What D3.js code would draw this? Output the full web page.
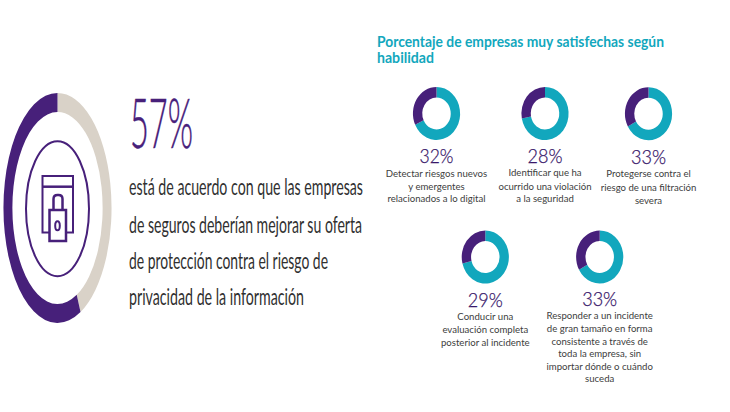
<!DOCTYPE html>
<html>
<head>
<meta charset="utf-8">
<script src="https://cdn.jsdelivr.net/npm/d3@7"></script>
<style>
  html, body { margin: 0; padding: 0; background: #fff; }
  text { font-family: Lato, "Open Sans", sans-serif; }
</style>
</head>
<body>
<div id="chart"></div>
<script>
// Values
var mainValue = 57;
var mainLines = ["está de acuerdo con que las empresas",
                 "de seguros deberían mejorar su oferta",
                 "de protección contra el riesgo de",
                 "privacidad de la información"];
var titleLines = ["Porcentaje de empresas muy satisfechas según", "habilidad"];
var skillValues = [32, 28, 33, 29, 33];
var skillLabels = [
  ["Detectar riesgos nuevos", "y emergentes", "relacionados a lo digital"],
  ["Identificar que ha", "ocurrido una violación", "a la seguridad"],
  ["Protegerse contra el", "riesgo de una filtración", "severa"],
  ["Conducir una", "evaluación completa", "posterior al incidente"],
  ["Responder a un incidente", "de gran tamaño en forma", "consistente a través de", "toda la empresa, sin", "importar dónde o cuándo", "suceda"]
];

// Layout, the original image is squeezed horizontally so rings are ellipses
var purple = "#47207a", darkPurple = "#38176a", teal = "#12a7bd", beige = "#d9d2c8", grey = "#404040";
var mainLineY = [195, 232.5, 269, 305];
var mainLineW = [234, 233, 199, 175];
var titleY = [46.5, 63], titleW = [287, 57];
var donutLayout = [
  {cx: 436.5, cy: 113.5, numW: 34, numY: 162.7, y: [176.7, 190, 201.7]},
  {cx: 545, cy: 113.5, numW: 35, numY: 162.7, y: [176, 190, 201.7]},
  {cx: 648.5, cy: 113.7, numW: 35, numY: 164.3, y: [177.3, 190.7, 204]},
  {cx: 485.3, cy: 257, numW: 35, numY: 307, y: [320, 332.7, 345.7]},
  {cx: 599.7, cy: 257, numW: 35, numY: 305.7, y: [318.7, 331.7, 345.3, 357.3, 370, 382.3]}
];

var svg = d3.select("#chart")
    .append("svg")
    .attr("width", 730)
    .attr("height", 412);

svg.append("rect").attr("width", 730).attr("height", 412).attr("fill", "#fff");

// Text helper: fits a line to the width measured in the picture when one is given
function addText(x, y, str, size, width, fill, anchor, weight) {
  var t = svg.append("text")
      .attr("x", x)
      .attr("y", y)
      .attr("font-size", size)
      .attr("font-weight", weight || 400)
      .attr("fill", fill)
      .attr("text-anchor", anchor || "start")
      .text(str);
  if (width) {
    t.attr("textLength", width).attr("lengthAdjust", "spacingAndGlyphs");
  }
  return t;
}

// Pie starts at the top and runs clockwise, the rest first
var pie = d3.pie().sort(null);

// Big ring
var bigRing = svg.append("g")
    .attr("transform", "translate(57.5,208) scale(0.47,1)");
var bigArc = d3.arc().innerRadius(96).outerRadius(115);
bigRing.selectAll("path")
    .data(pie([100 - mainValue, mainValue]))
    .enter()
    .append("path")
    .attr("d", bigArc)
    .attr("fill", function(d, i) { return i === 0 ? beige : purple; });

// Icon inside the big ring
var icon = svg.append("g")
    .attr("fill", "none")
    .attr("stroke", purple)
    .attr("stroke-width", 2);
icon.append("ellipse").attr("cx", 57.5).attr("cy", 208.7).attr("rx", 31.5).attr("ry", 67.5);
icon.append("rect").attr("x", 42.5).attr("y", 176).attr("width", 30.5).attr("height", 56.5);
icon.append("line").attr("x1", 42.5).attr("x2", 73).attr("y1", 186.7).attr("y2", 186.7).attr("stroke-width", 2.5);
icon.append("rect").attr("x", 49.5).attr("y", 210).attr("width", 16.5).attr("height", 31).attr("fill", "#fff").attr("stroke-width", 2.5);
icon.append("path").attr("d", "M53.5,210V199Q53.5,195 57.5,195H58.5Q62.5,195 62.5,199V210").attr("stroke-width", 2.5);
icon.append("ellipse").attr("cx", 57.5).attr("cy", 225.7).attr("rx", 2.3).attr("ry", 4.5);

// Main figure and sentence
addText(130, 148, mainValue + "%", 68, 63, purple, "start", 300)
    .attr("stroke", purple)
    .attr("stroke-width", 0.5);
mainLines.forEach(function(line, i) {
  addText(129, mainLineY[i], line, 24, mainLineW[i], "#303030", "start", 400);
});

// Title
titleLines.forEach(function(line, i) {
  addText(377, titleY[i], line, 15, titleW[i], teal, "start", 700);
});

// Small donuts
var smallArc = d3.arc().innerRadius(16).outerRadius(26.5);
skillValues.forEach(function(v, i) {
  var l = donutLayout[i];
  var g = svg.append("g")
      .attr("transform", "translate(" + l.cx + "," + l.cy + ") scale(0.89,1)");
  g.selectAll("path")
      .data(pie([100 - v, v]))
      .enter()
      .append("path")
      .attr("d", smallArc)
      .attr("fill", function(d, j) { return j === 0 ? teal : purple; });

  addText(l.cx, l.numY, v + "%", 20, l.numW, darkPurple, "middle", 300)
      .attr("stroke", darkPurple)
      .attr("stroke-width", 0.25);
  skillLabels[i].forEach(function(line, j) {
    addText(l.cx, l.y[j], line, 9.6, null, grey, "middle", 400);
  });
});
</script>
</body>
</html>
